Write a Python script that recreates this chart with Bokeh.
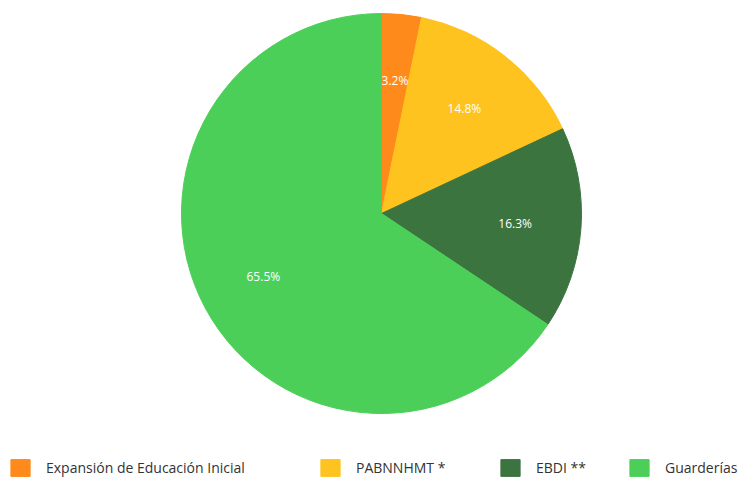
import math
from bokeh.plotting import figure
from bokeh.models import ColumnDataSource, Range1d, Legend, LegendItem
from bokeh.core.properties import value
from bokeh.embed import file_html
from bokeh.resources import INLINE

categories = ["Expansión de Educación Inicial", "PABNNHMT *", "EBDI **", "Guarderías"]
shares = [3.2, 14.8, 16.3, 65.5]
labels = ["3.2%", "14.8%", "16.3%", "65.5%"]
colors = ["#FF8A1C", "#FFC31F", "#3C7440", "#4CCF59"]

W, H = 739, 480
cx, cy, R = 381, -213, 200
label_r = 134
legend_x = [8, 318, 498, 627]

total = sum(shares)
starts, ends, lx, ly = [], [], [], []
cum = 0.0
for s in shares:
    a0 = math.pi / 2 - 2 * math.pi * cum / total
    cum += s
    a1 = math.pi / 2 - 2 * math.pi * cum / total
    starts.append(a0)
    ends.append(a1)
    mid = (a0 + a1) / 2
    lx.append(cx + label_r * math.cos(mid))
    ly.append(cy + label_r * math.sin(mid))

src = ColumnDataSource(dict(cat=categories, start=starts, end=ends, color=colors,
                            lx=lx, ly=ly, lab=labels))

p = figure(width=W, height=H, output_backend="svg", toolbar_location=None,
           x_range=Range1d(0, W), y_range=Range1d(-H, 0), min_border=0,
           outline_line_color=None)
p.axis.visible = False
p.grid.visible = False

r = p.wedge(x=cx, y=cy, radius=R, start_angle="start", end_angle="end",
            direction="clock", fill_color="color", line_color="color", source=src)

p.text(x="lx", y="ly", text="lab", source=src, text_color="white",
       text_font=value("Open Sans"), text_font_size="12px",
       text_align="center", text_baseline="middle")

for i, c in enumerate(categories):
    legend = Legend(items=[LegendItem(label=c, renderers=[r], index=i)],
                    location=(legend_x[i], H - 478),
                    glyph_width=24, glyph_height=21, label_standoff=14,
                    padding=0, margin=0, border_line_color=None,
                    background_fill_alpha=0, label_text_font="Open Sans",
                    label_text_font_size="14px", label_text_color="#333333",
                    label_height=21)
    p.add_layout(legend, "center")

open("out.html", "w").write(file_html(p, INLINE))
